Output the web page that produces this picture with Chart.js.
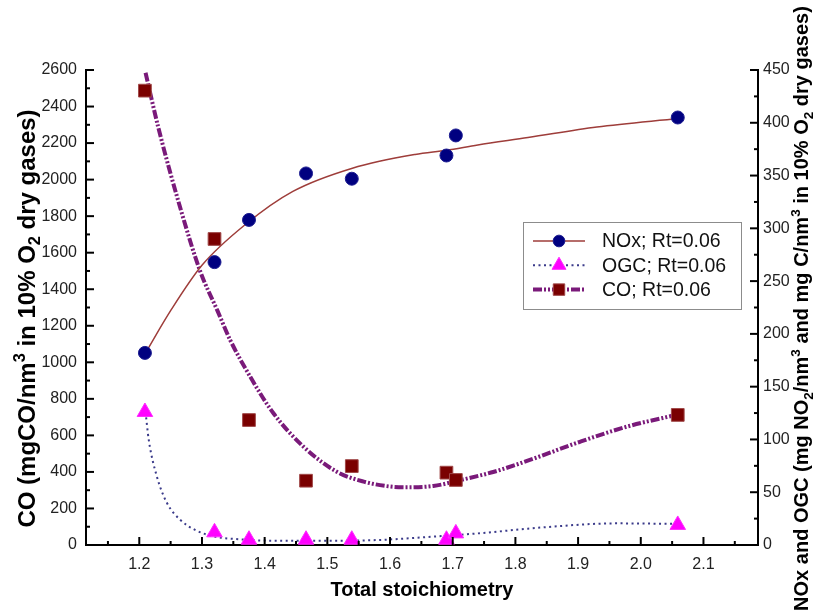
<!DOCTYPE html>
<html>
<head>
<meta charset="utf-8">
<script src="https://cdn.jsdelivr.net/npm/chart.js@4.4.0/dist/chart.umd.min.js"></script>
<style>
body { margin: 0; background: #fff; }
#wrap { width: 815px; height: 616px; }
</style>
</head>
<body>
<div id="wrap"><canvas id="chart" width="815" height="616"></canvas></div>
<script>
// measured points (total stoichiometry on x)
var stoich = [1.209, 1.320, 1.375, 1.466, 1.539, 1.690, 1.705, 2.059]
var noxVals = [182, 268, 308, 352, 347, 369, 388, 405]
var ogcVals = [126, 12, 5, 5, 5, 5, 11, 19]
var coVals = [2487, 1675, 684, 352, 432, 396, 356, 712]

// fitted curves
var noxFitX = [1.21, 1.25, 1.30, 1.37, 1.445, 1.54, 1.64, 1.69, 1.74, 1.82, 1.93, 2.06]
var noxFitY = [182, 222, 265, 304, 335, 357, 370, 374, 379, 386, 396, 404]
var ogcFitX = [1.21, 1.215, 1.228, 1.244, 1.265, 1.29, 1.32, 1.36, 1.41, 1.50, 1.58, 1.67, 1.74, 1.85, 1.96, 2.06]
var ogcFitY = [126, 100, 65, 40, 24, 14, 8, 5.4, 4.1, 4, 4.7, 8, 11, 17, 20.5, 20]
var coFitX = [1.21, 1.23, 1.265, 1.297, 1.325, 1.345, 1.377, 1.414, 1.462, 1.515, 1.558, 1.60, 1.627, 1.669, 1.713, 1.766, 1.83, 1.903, 1.978, 2.06]
var coFitY = [2585, 2290, 1850, 1500, 1280, 1122, 921, 721, 538, 401, 347, 320, 316, 323, 356, 401, 474, 565, 648, 715]

// ticks
var xTicks = [1.2, 1.3, 1.4, 1.5, 1.6, 1.7, 1.8, 1.9, 2.0, 2.1]
var coTicks = [0, 200, 400, 600, 800, 1000, 1200, 1400, 1600, 1800, 2000, 2200, 2400, 2600]
var noxTicks = [0, 50, 100, 150, 200, 250, 300, 350, 400, 450]

var legendLabels = ['NOx; Rt=0.06', 'OGC; Rt=0.06', 'CO; Rt=0.06']

var FONT = '"Liberation Sans", Arial, sans-serif'

function pairs(xs, ys) {
    return xs.map(function(x, i){ return {x: x, y: ys[i]} })
}

function minors(majors, lo, hi) {
    var step = majors[1] - majors[0]
    var out = []
    var v = majors[0] - step / 2
    for (var i = 0; i <= majors.length; i++) {
        if (v > lo + 1e-9 && v < hi - 1e-9) out.push(v)
        v += step
    }
    return out
}

function drawRotated(ctx, parts, cx, cy, size) {
    var small = size * 0.68
    ctx.save()
    ctx.translate(cx, cy)
    ctx.rotate(-Math.PI / 2)
    var total = 0
    parts.forEach(function(p){
        ctx.font = 'bold ' + (p[1] == 'n' ? size : small) + 'px ' + FONT
        total += ctx.measureText(p[0]).width
    })
    var x = -total / 2
    ctx.textAlign = 'left'
    ctx.textBaseline = 'alphabetic'
    ctx.fillStyle = '#000'
    var base = size * 0.36
    parts.forEach(function(p){
        ctx.font = 'bold ' + (p[1] == 'n' ? size : small) + 'px ' + FONT
        var dy = p[1] == 'sup' ? -size * 0.42 : (p[1] == 'sub' ? size * 0.22 : 0)
        ctx.fillText(p[0], x, base + dy)
        x += ctx.measureText(p[0]).width
    })
    ctx.restore()
}

var leftTitle = [['CO (mgCO/nm', 'n'], ['3', 'sup'], [' in 10% O', 'n'], ['2', 'sub'], [' dry gases)', 'n']]
var rightTitle = [['NOx and OGC (mg NO', 'n'], ['2', 'sub'], ['/nm', 'n'], ['3', 'sup'], [' and mg C/nm', 'n'],
    ['3', 'sup'], [' in 10% O', 'n'], ['2', 'sub'], [' dry gases)', 'n']]

const extrasPlugin = {
    id: 'extras',
    afterDraw: function(chart){
        const ctx = chart.ctx
        const a = chart.chartArea
        const sx = chart.scales.x, sy = chart.scales.y, sy1 = chart.scales.y1
        ctx.save()
        ctx.strokeStyle = '#000'
        ctx.lineWidth = 2
        function tick(x1, y1, x2, y2) {
            ctx.beginPath(); ctx.moveTo(x1, y1); ctx.lineTo(x2, y2); ctx.stroke()
        }
        xTicks.forEach(function(v){ var p = sx.getPixelForValue(v); tick(p, a.bottom, p, a.bottom - 8) })
        minors(xTicks, sx.min, sx.max).forEach(function(v){ var p = sx.getPixelForValue(v); tick(p, a.bottom, p, a.bottom - 4) })
        coTicks.forEach(function(v){ var p = sy.getPixelForValue(v); tick(a.left, p, a.left + 8, p) })
        minors(coTicks, sy.min, sy.max).forEach(function(v){ var p = sy.getPixelForValue(v); tick(a.left, p, a.left + 4, p) })
        noxTicks.forEach(function(v){ var p = sy1.getPixelForValue(v); tick(a.right, p, a.right - 8, p) })
        minors(noxTicks, sy1.min, sy1.max).forEach(function(v){ var p = sy1.getPixelForValue(v); tick(a.right, p, a.right - 4, p) })
        ctx.restore()

        // axis titles with sub/superscripts
        drawRotated(ctx, leftTitle, 26, (a.top + a.bottom) / 2 + 11, 24)
        drawRotated(ctx, rightTitle, 801, (a.top + a.bottom) / 2 + 1, 20)

        // legend
        const lx = a.right - 235, ly = a.top + 152, lw = 218, lh = 87
        ctx.save()
        ctx.fillStyle = '#fff'
        ctx.fillRect(lx, ly, lw, lh)
        ctx.strokeStyle = '#8c8c8c'
        ctx.lineWidth = 1
        ctx.strokeRect(lx + 0.5, ly + 0.5, lw, lh)
        const ds = chart.data.datasets
        for (let i = 0; i < 3; i++) {
            const line = ds[i + 3], pts = ds[i]
            const ry = ly + 19 + i * 24.3
            ctx.save()
            ctx.strokeStyle = line.borderColor
            ctx.lineWidth = line.borderWidth
            ctx.setLineDash(line.borderDash || [])
            ctx.beginPath(); ctx.moveTo(lx + 10, ry); ctx.lineTo(lx + 62, ry); ctx.stroke()
            ctx.restore()
            ctx.save()
            ctx.fillStyle = pts.backgroundColor
            ctx.strokeStyle = pts.borderColor
            Chart.helpers.drawPoint(ctx, {pointStyle: pts.pointStyle, radius: pts.pointRadius * 0.9, rotation: 0, borderWidth: 1}, lx + 36, ry)
            ctx.restore()
            ctx.fillStyle = '#111'
            ctx.font = '19.5px ' + FONT
            ctx.textBaseline = 'middle'
            ctx.textAlign = 'left'
            ctx.fillText(legendLabels[i], lx + 79, ry + 1)
        }
        ctx.restore()
    }
}

const ctx = document.getElementById('chart').getContext('2d')
const config = {
    type: 'line',
    data: {
        datasets: [
            {
                label: legendLabels[0], data: pairs(stoich, noxVals), yAxisID: 'y1', showLine: false,
                pointStyle: 'circle', pointRadius: 6.5, backgroundColor: '#000080', borderColor: '#1c1c90',
                pointBorderWidth: 1, clip: false, order: 1
            },
            {
                label: legendLabels[1], data: pairs(stoich, ogcVals), yAxisID: 'y1', showLine: false,
                pointStyle: 'triangle', pointRadius: 9, backgroundColor: '#ff00ff', borderColor: '#ff2cff',
                pointBorderWidth: 1, clip: false, order: 1
            },
            {
                label: legendLabels[2], data: pairs(stoich, coVals), yAxisID: 'y', showLine: false,
                pointStyle: 'rect', pointRadius: 9, backgroundColor: '#7a0000', borderColor: '#a04848',
                pointBorderWidth: 1, clip: false, order: 1
            },
            {
                label: 'NOx fit', data: pairs(noxFitX, noxFitY), yAxisID: 'y1', pointRadius: 0,
                borderColor: '#9e3d3a', borderWidth: 1.5, cubicInterpolationMode: 'monotone', order: 2
            },
            {
                label: 'OGC fit', data: pairs(ogcFitX, ogcFitY), yAxisID: 'y1', pointRadius: 0,
                borderColor: '#3a3a8a', borderWidth: 2, borderDash: [2, 3.5], cubicInterpolationMode: 'monotone', order: 2
            },
            {
                label: 'CO fit', data: pairs(coFitX, coFitY), yAxisID: 'y', pointRadius: 0,
                borderColor: '#7a1a7a', borderWidth: 4, borderDash: [9, 2, 2, 2, 2, 2], cubicInterpolationMode: 'monotone', order: 2
            }
        ]
    },
    options: {
        responsive: false,
        animation: false,
        layout: { padding: { top: 70, left: 0, right: 0, bottom: 0 } },
        plugins: {
            legend: { display: false },
            tooltip: { enabled: false }
        },
        scales: {
            x: {
                type: 'linear', min: 1.115, max: 2.187,
                grid: { display: false, drawTicks: false },
                border: { display: true, color: '#000', width: 2 },
                afterBuildTicks: function(s){ s.ticks = xTicks.map(function(v){ return {value: v} }) },
                ticks: { font: { size: 16, family: FONT }, color: '#222', padding: 10, maxRotation: 0,
                    callback: function(v){ return v.toFixed(1) } },
                title: { display: true, text: 'Total stoichiometry', color: '#000',
                    font: { size: 20, weight: 'bold', family: FONT }, padding: { top: 0, bottom: 14 } },
                afterFit: function(s){ s.height = 71 }
            },
            y: {
                position: 'left', min: 0, max: 2600,
                grid: { display: false, drawTicks: false },
                border: { display: true, color: '#000', width: 2 },
                afterBuildTicks: function(s){ s.ticks = coTicks.map(function(v){ return {value: v} }) },
                ticks: { font: { size: 16, family: FONT }, color: '#222', padding: 9,
                    callback: function(v){ return String(v) } },
                afterFit: function(s){ s.width = 86 }
            },
            y1: {
                position: 'right', min: 0, max: 450,
                grid: { display: false, drawTicks: false },
                border: { display: true, color: '#000', width: 2 },
                afterBuildTicks: function(s){ s.ticks = noxTicks.map(function(v){ return {value: v} }) },
                ticks: { font: { size: 16, family: FONT }, color: '#222', padding: 5,
                    callback: function(v){ return String(v) } },
                afterFit: function(s){ s.width = 57 }
            }
        }
    },
    plugins: [extrasPlugin]
}
const myChart = new Chart(ctx, config)
</script>
</body>
</html>
